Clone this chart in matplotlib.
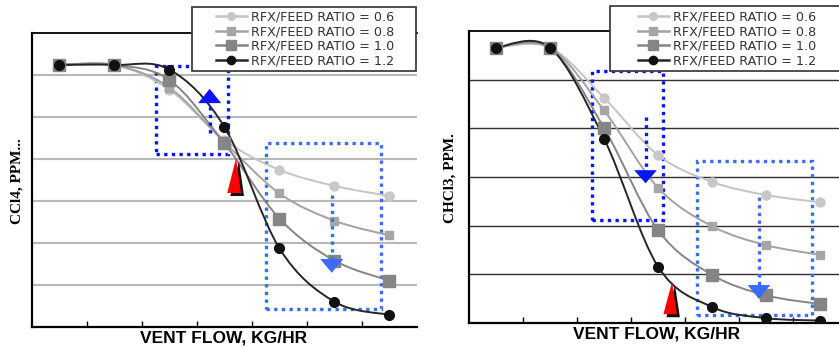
import numpy as np
import matplotlib
matplotlib.use('Agg')
import matplotlib.pyplot as plt
from matplotlib.path import Path
from matplotlib.patches import PathPatch, Rectangle, Polygon
from matplotlib.lines import Line2D
from matplotlib import transforms

# данные (условные единицы по оси Y)
vent_flow = [0.5, 1.5, 2.5, 3.5, 4.5, 5.5, 6.5]
ratios = ['0.6', '0.8', '1.0', '1.2']

ccl4_06 = [6.24, 6.24, 5.65, 4.45, 3.74, 3.36, 3.12]
ccl4_08 = [6.24, 6.24, 5.70, 4.40, 3.18, 2.53, 2.18]
ccl4_10 = [6.24, 6.24, 5.88, 4.37, 2.58, 1.58, 1.10]
ccl4_12 = [6.24, 6.24, 6.13, 4.76, 1.87, 0.60, 0.29]

chcl3_06 = [5.66, 5.66, 4.63, 3.45, 2.90, 2.63, 2.48]
chcl3_08 = [5.66, 5.66, 4.37, 2.78, 1.99, 1.60, 1.40]
chcl3_10 = [5.66, 5.66, 4.01, 1.91, 0.99, 0.57, 0.39]
chcl3_12 = [5.66, 5.66, 3.79, 1.16, 0.33, 0.10, 0.05]

# стиль серий: цвет линии, маркер, цвет маркера, размер
styles = [('#c4c4c4', 'o', '#c8c8c8', 6.5),
          ('#a2a2a2', 's', '#a6a6a6', 6.0),
          ('#858585', 's', '#858585', 8.5),
          ('#262626', 'o', '#111111', 7.0)]

# аннотации: рамки (x0, x1, y0, y1, цвет), стрелки (x, верх штриха, низ штриха, основание, острие, цвет)
ccl4_boxes = [(2.25, 3.56, 4.12, 6.21, '#0a14ff'), (4.25, 6.35, 0.43, 4.38, '#3a6cff')]
ccl4_arrows = [(3.23, 4.62, 5.33, 5.33, 5.67, '#0a14ff'), (5.45, 3.14, 1.62, 1.62, 1.29, '#3a6cff')]
ccl4_red = [(3.55, 3.19), (3.80, 3.19), (3.71, 4.02)]

chcl3_boxes = [(2.28, 3.60, 2.11, 5.17, '#0a14ff'), (4.22, 6.35, 0.16, 3.33, '#3a6cff')]
chcl3_arrows = [(3.27, 4.24, 3.14, 3.14, 2.87, '#0a14ff'), (5.37, 2.59, 0.78, 0.78, 0.49, '#3a6cff')]
chcl3_red = [(3.60, 0.18), (3.85, 0.18), (3.76, 0.84)]


def smooth_path(xs, ys):
    pts = np.column_stack([xs, ys])
    p = np.vstack([pts[0], pts, pts[-1]])
    verts = [pts[0]]
    codes = [Path.MOVETO]
    for i in range(len(pts) - 1):
        p0, p1, p2, p3 = p[i], p[i + 1], p[i + 2], p[i + 3]
        verts += [p1 + (p2 - p0) / 6, p2 - (p3 - p1) / 6, p2]
        codes += [Path.CURVE4] * 3
    return Path(verts, codes)


def draw_panel(ax, series, ymax, xmax, gridcolor, gridlw, boxes, arrows, red):
    ax.set_xlim(0, xmax)
    ax.set_ylim(0, ymax)
    ax.set_xticks(range(1, 7))
    ax.set_yticks(range(1, ymax))
    ax.tick_params(axis='x', direction='in', length=4, width=1, labelbottom=False)
    ax.tick_params(axis='y', length=0, labelleft=False)
    ax.grid(axis='y', color=gridcolor, lw=gridlw)
    ax.set_axisbelow(True)
    ax.spines['right'].set_visible(False)
    for s in ['left', 'bottom']:
        ax.spines[s].set_linewidth(1.6)
    ax.spines['top'].set_linewidth(1.3)

    for (x0, x1, y0, y1, c) in boxes:
        ax.add_patch(Rectangle((x0, y0), x1 - x0, y1 - y0, fill=False, ec=c, lw=2.4,
                               ls=(0, (1, 1.3)), zorder=2.5))

    for ys, (lc, m, mc, ms) in zip(series, styles):
        ax.add_patch(PathPatch(smooth_path(vent_flow, ys), fill=False, ec=lc, lw=1.4, zorder=3))
        ax.plot(vent_flow, ys, ls='none', marker=m, mfc=mc, mec=mc, ms=ms, zorder=4)

    for (x, s0, s1, base, tip, c) in arrows:
        ax.plot([x, x], [s0, s1], color=c, lw=2.4, ls=(0, (1, 1.3)), zorder=5)
        ax.add_patch(Polygon([(x - 0.21, base), (x + 0.21, base), (x, tip)], closed=True,
                             fc=c, ec='none', zorder=6))

    shadow = transforms.offset_copy(ax.transData, fig=ax.figure, x=3, y=-3, units='dots')
    ax.add_patch(Polygon(red, closed=True, fc='#111111', ec='none', zorder=6, transform=shadow))
    ax.add_patch(Polygon(red, closed=True, fc='#ff0000', ec='none', zorder=7))


W, H = 839, 348
fig = plt.figure(figsize=(W / 100, H / 100), dpi=100)

ax1 = fig.add_axes([32 / W, 1 - 327 / H, 385 / W, 294 / H])
ax2 = fig.add_axes([469 / W, 1 - 323 / H, 370 / W, 292 / H])

draw_panel(ax1, [ccl4_06, ccl4_08, ccl4_10, ccl4_12], 7, 7.0, '#b8b8b8', 1.5,
           ccl4_boxes, ccl4_arrows, ccl4_red)
draw_panel(ax2, [chcl3_06, chcl3_08, chcl3_10, chcl3_12], 6, 370 / 54, '#303030', 1.0,
           chcl3_boxes, chcl3_arrows, chcl3_red)

handles = [Line2D([], [], color=lc, lw=1.8, marker=m, mfc=mc, mec=mc, ms=ms * 0.85)
           for (lc, m, mc, ms) in styles]
labels = ['RFX/FEED RATIO = ' + r for r in ratios]

for (bx0, bx1, by0, by1, cx, cy) in [(192, 416, 7, 71, 305, 39), (610, 850, 6, 71, 727, 39)]:
    fig.patches.append(Rectangle((bx0 / W, 1 - by1 / H), (bx1 - bx0) / W, (by1 - by0) / H,
                                 transform=fig.transFigure, fc='white', ec='#404040', lw=1.3,
                                 zorder=4))
    fig.legend(handles, labels, loc='center', bbox_to_anchor=(cx / W, 1 - cy / H),
               frameon=False, fontsize=9.2, handlelength=2.45, handletextpad=0.3,
               labelspacing=0.12, borderpad=0, labelcolor='#333333')

fig.text(224 / W, 1 - 338 / H, 'VENT FLOW, KG/HR', ha='center', va='center',
         family='Liberation Sans', weight='bold', size=12.5)
fig.text(657 / W, 1 - 334 / H, 'VENT FLOW, KG/HR', ha='center', va='center',
         family='Liberation Sans', weight='bold', size=12.5)
fig.text(17 / W, 1 - 181 / H, 'CCl4, PPM...', rotation=90, ha='center', va='center',
         family='Liberation Serif', weight='bold', size=11)
fig.text(450 / W, 1 - 178 / H, 'CHCl3, PPM.', rotation=90, ha='center', va='center',
         family='Liberation Serif', weight='bold', size=11)

fig.savefig('out.png', dpi=100)
